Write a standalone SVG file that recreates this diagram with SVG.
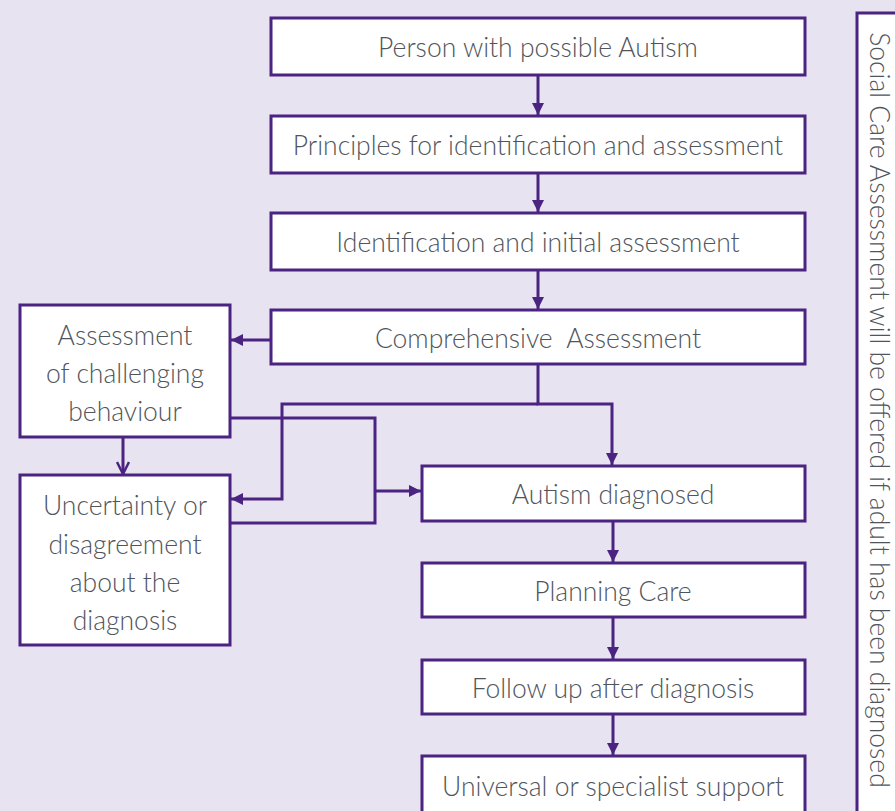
<svg xmlns="http://www.w3.org/2000/svg" width="895" height="811" viewBox="0 0 895 811">
<defs>
<style>
.box{fill:#fff;stroke:#4b2381;stroke-width:3}
.t{font-family:"Lato","Open Sans","Liberation Sans",sans-serif;font-size:26.5px;font-weight:300;fill:#50555c;text-anchor:middle;dominant-baseline:central}
.c{fill:none;stroke:#4b2381;stroke-width:3}
</style>
<marker id="a" viewBox="0 0 12 12" refX="12" refY="6" markerWidth="12" markerHeight="12" markerUnits="userSpaceOnUse" orient="auto">
<path d="M0,0 L12,6 L0,12 Z" fill="#4b2381"/>
</marker>
<marker id="o" viewBox="0 0 14 14" refX="13" refY="7" markerWidth="14" markerHeight="14" markerUnits="userSpaceOnUse" orient="auto">
<path d="M1,1 L13,7 L1,13" fill="none" stroke="#4b2381" stroke-width="2.5"/>
</marker>
</defs>
<rect width="895" height="811" fill="#e7e3f1"/>
<g id="side">
<rect class="box" x="857" y="13" width="50" height="810"/>
<text class="t" transform="translate(880,410) rotate(90)">Social Care Assessment will be offered if adult has been diagnosed</text>
</g>
<g id="n1"><rect class="box" x="271" y="18" width="534" height="57"/><text class="t" x="538" y="47">Person with possible Autism</text></g>
<g id="n2"><rect class="box" x="271" y="116" width="534" height="57"/><text class="t" x="538" y="145">Principles for identification and assessment</text></g>
<g id="n3"><rect class="box" x="271" y="213" width="534" height="57"/><text class="t" x="538" y="242">Identification and initial assessment</text></g>
<g id="n4"><rect class="box" x="271" y="310" width="534" height="54"/><text class="t" x="538" y="338" xml:space="preserve" style="white-space:pre">Comprehensive  Assessment</text></g>
<g id="n5"><rect class="box" x="20" y="305" width="210" height="132"/>
<text class="t" x="125" y="335">Assessment</text><text class="t" x="125" y="373">of challenging</text><text class="t" x="125" y="411">behaviour</text></g>
<g id="n6"><rect class="box" x="20" y="475" width="210" height="170"/>
<text class="t" x="125" y="505">Uncertainty or</text><text class="t" x="125" y="544">disagreement</text><text class="t" x="125" y="582">about the</text><text class="t" x="125" y="620">diagnosis</text></g>
<g id="n7"><rect class="box" x="422" y="466" width="383" height="55"/><text class="t" x="613" y="494">Autism diagnosed</text></g>
<g id="n8"><rect class="box" x="422" y="563" width="383" height="54"/><text class="t" x="613" y="591">Planning Care</text></g>
<g id="n9"><rect class="box" x="422" y="660" width="383" height="54"/><text class="t" x="613" y="688">Follow up after diagnosis</text></g>
<g id="n10"><rect class="box" x="422" y="756" width="383" height="70"/><text class="t" x="613" y="786">Universal or specialist support</text></g>
<g id="connectors">
<path class="c" d="M538,75 V115" marker-end="url(#a)"/>
<path class="c" d="M538,173 V212" marker-end="url(#a)"/>
<path class="c" d="M538,270 V309" marker-end="url(#a)"/>
<path class="c" d="M271,340 H231" marker-end="url(#a)"/>
<path class="c" d="M538,364 V404 H612 V465" marker-end="url(#a)"/>
<path class="c" d="M538,404 H282 V499 H231" marker-end="url(#a)"/>
<path class="c" d="M123,437 V474" marker-end="url(#o)"/>
<path class="c" d="M230,418 H375 V523 H230"/>
<path class="c" d="M375,491 H421" marker-end="url(#a)"/>
<path class="c" d="M613,521 V562" marker-end="url(#a)"/>
<path class="c" d="M613,617 V659" marker-end="url(#a)"/>
<path class="c" d="M613,714 V755" marker-end="url(#a)"/>
</g>
</svg>
